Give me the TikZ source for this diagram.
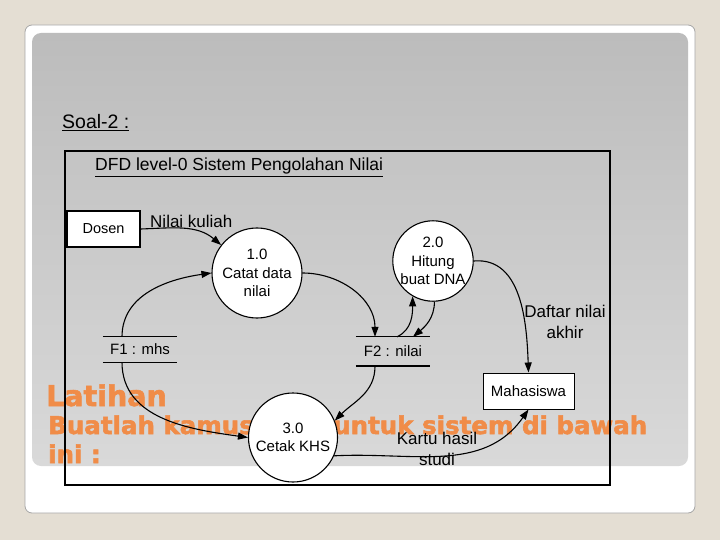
\documentclass[tikz,border=0pt]{standalone}
\usepackage{fontspec}
\setmainfont{Liberation Sans}
\newfontfamily\orfont{DejaVu Sans Bold}[FakeBold=2.2]
\usetikzlibrary{arrows.meta}
\definecolor{bgbeige}{HTML}{E4DED3}
\definecolor{panelTop}{HTML}{BCBCBC}
\definecolor{panelBot}{HTML}{D9D9D9}
\definecolor{orangeT}{HTML}{F08C48}
\tikzset{
  proc/.style={circle, draw=black, fill=white, line width=1.1pt, minimum size=#1, inner sep=0pt, align=center, font=\fontsize{15}{18.5}\selectfont},
  ent/.style={draw=black, fill=white, inner sep=0pt, align=center},
  storebox/.style={inner sep=0pt, minimum width=74pt, minimum height=#1, font=\fontsize{15}{18}\selectfont},
  flow/.style={line width=1.1pt, -{Triangle[length=10pt,width=7pt]}},
  lbl/.style={align=center, inner sep=0pt, font=\fontsize{17}{21}\selectfont},
  ortext/.style={anchor=base west, inner sep=0pt, text=orangeT, font=\orfont\fontsize{#1}{#1}\selectfont}
}
\begin{document}
\begin{tikzpicture}[x=1pt,y=-1pt]
\fill[bgbeige] (0,0) rectangle (720,540);
\useasboundingbox (0,0) rectangle (720,540);
% slide
\draw[draw=gray!70, line width=0.8pt, fill=white, rounded corners=7pt] (25,25) rectangle (695,513);
\shade[top color=panelTop, bottom color=panelBot, rounded corners=9pt] (32,33) rectangle (688,466);
% orange text
\node[ortext=28.5] (lat) at (46,406) {Latihan};
\node[ortext=24.5] (bua) at (48,434) {Buatlah kamus data untuk sistem di bawah};
\node[ortext=24.5] (ini) at (48,463) {ini :};
% headings
\node[anchor=base west, inner sep=0pt, font=\fontsize{19.5}{20}\selectfont] (soal) at (62,129) {\underline{Soal-2 :}};
\draw[line width=2pt] (65,151) rectangle (610,485);
\node[anchor=base west, inner sep=0pt, font=\fontsize{17.5}{18}\selectfont] (title) at (95,171) {\underline{DFD level-0 Sistem Pengolahan Nilai}};
% entities
\node[ent, line width=1.5pt, minimum width=73pt, minimum height=36pt, font=\fontsize{14.5}{15}\selectfont] (dosen) at (103.5,229) {Dosen};
\node[ent, line width=1pt, minimum width=91pt, minimum height=36pt, font=\fontsize{15}{15}\selectfont] (mhs) at (528.5,391) {Mahasiswa};
% processes
\node[proc=90pt] (c1) at (257,273) {1.0\\Catat data\\nilai};
\node[proc=80pt] (c2) at (433,261) {2.0\\Hitung\\buat DNA};
\node[proc=89pt] (c3) at (293,437.5) {3.0\\Cetak KHS};
% stores
\node[storebox=25pt] (f1) at (140,349.5) {F1 : mhs};
\draw[line width=1.2pt] (f1.north west) -- (f1.north east);
\draw[line width=1.2pt] (f1.south west) -- (f1.south east);
\node[storebox=29pt] (f2) at (393,351.5) {F2 : nilai};
\draw[line width=1.2pt] (f2.north west) -- (f2.north east);
\draw[line width=2pt] (f2.south west) -- (f2.south east);
% flows
\draw[flow] (dosen.east) to[out=2,in=140] (c1.142);
\draw[flow] ([xshift=-18pt]f1.north) to[out=90,in=188] (c1.180);
\draw[flow] (c1.0) to[out=0,in=90] ([xshift=-18pt]f2.north);
\draw[flow] ([xshift=4pt]f2.north) to[out=25,in=-90] (c2.240);
\draw[flow] (c2.272) to[out=-90,in=40] ([xshift=20pt]f2.north);
\draw[flow] (c2.0) to[out=5,in=92] (mhs.north);
\draw[flow] ([xshift=-18pt]f2.south) to[out=-90,in=45] (c3.22);
\draw[flow] ([xshift=-18pt]f1.south) to[out=-90,in=172] (c3.180);
\draw[flow] (c3.-24) to[out=3,in=-125] (mhs.south);
% labels
\node[lbl, anchor=west] (l1) at (150,221) {Nilai kuliah};
\node[lbl] (l2) at (565,322) {Daftar nilai\\akhir};
\node[lbl] (l3) at (437,449) {Kartu hasil\\studi};
\end{tikzpicture}
\end{document}
